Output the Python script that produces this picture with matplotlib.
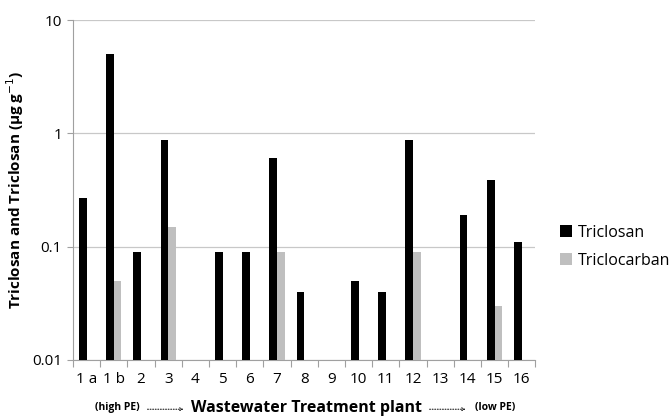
import numpy as np
import matplotlib
matplotlib.use("Agg")
from matplotlib import pyplot as plt

plants = ["1a", "1b", "2", "3", "4", "5", "6", "7", "8", "9", "10", "11", "12", "13", "14", "15", "16"]
tick_labels = ["1 a", "1 b", "2", "3", "4", "5", "6", "7", "8", "9", "10", "11", "12", "13", "14", "15", "16"]
triclosan = [0.27, 5.0, 0.09, 0.88, np.nan, 0.09, 0.09, 0.6, 0.04, np.nan, 0.05, 0.04, 0.88, np.nan, 0.19, 0.39, 0.11]
triclocarban = [np.nan, 0.05, np.nan, 0.15, np.nan, np.nan, np.nan, 0.09, np.nan, np.nan, np.nan, np.nan, 0.09, np.nan, np.nan, 0.03, np.nan]

plt.rcParams["font.family"] = ["Open Sans", "DejaVu Sans"]

fig = plt.figure(figsize=(6.7, 4.18), dpi=100)
ax = fig.add_axes([0.109, 0.139, 0.69, 0.813])

x = np.arange(len(plants))
w = 0.28
base = 0.01
tcs = np.array(triclosan)
tcc = np.array(triclocarban)
ax.bar(x - w / 2, tcs - base, w, bottom=base, color="black", label="Triclosan", zorder=3)
ax.bar(x + w / 2, tcc - base, w, bottom=base, color="#bfbfbf", label="Triclocarban", zorder=3)

ax.set_yscale("log")
ax.set_ylim(0.01, 10)
ax.set_xlim(-0.5, len(plants) - 0.5)
ax.set_yticks([0.01, 0.1, 1, 10])
ax.set_yticklabels(["0.01", "0.1", "1", "10"], fontsize=11)
ax.yaxis.set_minor_locator(matplotlib.ticker.NullLocator())
ax.grid(axis="y", color="#c8c8c8", linewidth=0.9, zorder=0)

ax.set_xticks(np.arange(-0.5, len(plants)), minor=False)
ax.set_xticklabels([])
ax.set_xticks(x, minor=True)
ax.set_xticklabels(tick_labels, minor=True, fontsize=11)
ax.tick_params(axis="x", which="major", length=5, color="#a0a0a0", direction="out")
ax.tick_params(axis="x", which="minor", length=0, pad=9)
ax.tick_params(axis="y", length=4, color="#a0a0a0", pad=4)

for s in ["top", "right"]:
    ax.spines[s].set_visible(False)
for s in ["left", "bottom"]:
    ax.spines[s].set_color("#a0a0a0")

ax.set_ylabel("Triclosan and Triclosan (\u00b5g g$^{-1}$)", fontsize=11, fontweight="bold", labelpad=4)

yl = 0.025
fig.text(0.457, yl, "Wastewater Treatment plant", ha="center", va="center", fontsize=11.5, fontweight="bold")
fig.text(0.175, yl, "(high PE)", ha="center", va="center", fontsize=7.5, fontweight="bold")
fig.text(0.739, yl, "(low PE)", ha="center", va="center", fontsize=7.5, fontweight="bold")
for x0, x1 in [(0.216, 0.278), (0.637, 0.699)]:
    fig.add_artist(matplotlib.patches.FancyArrowPatch((x0, yl - 0.004), (x1, yl - 0.004), transform=fig.transFigure,
                                                      arrowstyle="->", mutation_scale=5, linestyle=":",
                                                      linewidth=0.7, color="black"))

fig.legend(loc="center left", bbox_to_anchor=(0.815, 0.41), frameon=False, fontsize=11.5,
           handlelength=0.7, handleheight=0.7, handletextpad=0.4, labelspacing=0.75)

plt.savefig("out.png", dpi=100)
